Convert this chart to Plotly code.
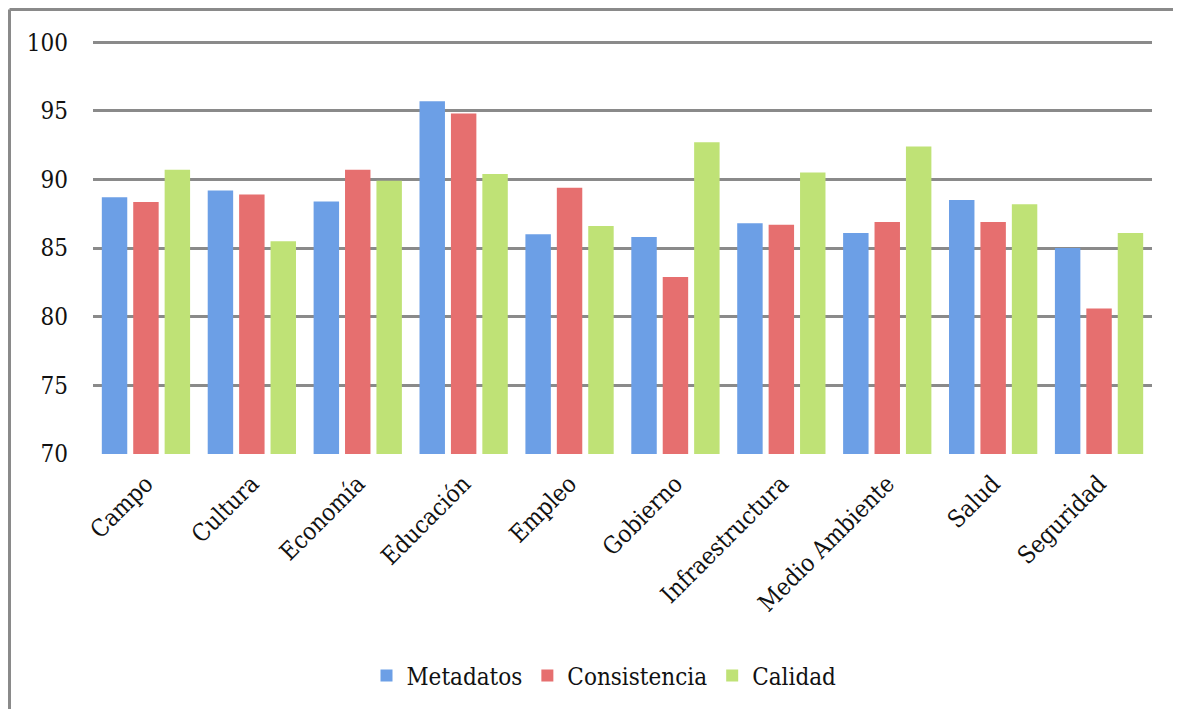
import plotly.graph_objects as go

categories = ["Campo", "Cultura", "Economía", "Educación", "Empleo", "Gobierno",
              "Infraestructura", "Medio Ambiente", "Salud", "Seguridad"]
metadatos = [88.7, 89.2, 88.4, 95.7, 86.0, 85.8, 86.8, 86.1, 88.5, 85.0]
consistencia = [88.35, 88.9, 90.7, 94.8, 89.4, 82.9, 86.7, 86.9, 86.9, 80.6]
calidad = [90.7, 85.5, 89.9, 90.4, 86.6, 92.7, 90.5, 92.4, 88.2, 86.1]
series_names = ["Metadatos", "Consistencia", "Calidad"]
y_ticks = [70, 75, 80, 85, 90, 95, 100]

colors = ["#6c9fe6", "#e66f6f", "#bfe276"]
font_family = "DejaVu Serif Condensed"

fig = go.Figure()
for name, vals, col in zip(series_names, [metadatos, consistencia, calidad], colors):
    fig.add_trace(go.Bar(name=name, x=categories, y=vals,
                         marker=dict(color=col, line=dict(width=0))))

PAGE_W, PAGE_H = 1181, 717
off = 8  # page body margin
W, H = PAGE_W - 2 * off, PAGE_H - 2 * off
y_top = 100.3
plot_left, plot_right, plot_bottom = 93, 1152, 455
plot_top = round(42 - (y_top - 100) * 413 / 30)
ml = plot_left - off
mr = W - (plot_right - off)
mt = plot_top - off
mb = H - (plot_bottom - off)
pw, ph = W - ml - mr, H - mt - mb

def px_x(p):
    return (p - off - ml) / pw

def px_y(p):
    return (H - mb - (p - off)) / ph

border = dict(color="#8a8a8a", width=3)
edge = off + 1.5
fig.update_layout(
    width=W, height=H,
    margin=dict(l=ml, r=mr, t=mt, b=mb),
    paper_bgcolor="white", plot_bgcolor="white",
    barmode="group", bargap=0.11, bargroupgap=0.19,
    font=dict(family=font_family, color="#111111"),
    showlegend=True,
    legend=dict(orientation="h", x=px_x(604), xanchor="center",
                y=px_y(676), yanchor="middle",
                font=dict(size=24, family=font_family),
                traceorder="normal"),
    xaxis=dict(type="category", showgrid=False, tickangle=-45,
               tickfont=dict(size=24, family=font_family),
               showline=False, ticks="", ticklabelstandoff=10),
    yaxis=dict(range=[70, y_top], tickvals=y_ticks, showgrid=True,
               gridcolor="#8a8a8a", gridwidth=2.5,
               tickfont=dict(size=24, family=font_family),
               zeroline=False, showline=False, ticks="",
               ticklabelstandoff=24),
    shapes=[
        dict(type="line", xref="paper", yref="paper",
             x0=px_x(edge), x1=px_x(edge), y0=px_y(PAGE_H + 20), y1=px_y(edge), line=border),
        dict(type="line", xref="paper", yref="paper",
             x0=px_x(edge), x1=px_x(PAGE_W + 20), y0=px_y(edge), y1=px_y(edge), line=border),
    ],
)

fig.write_html("out.html")
